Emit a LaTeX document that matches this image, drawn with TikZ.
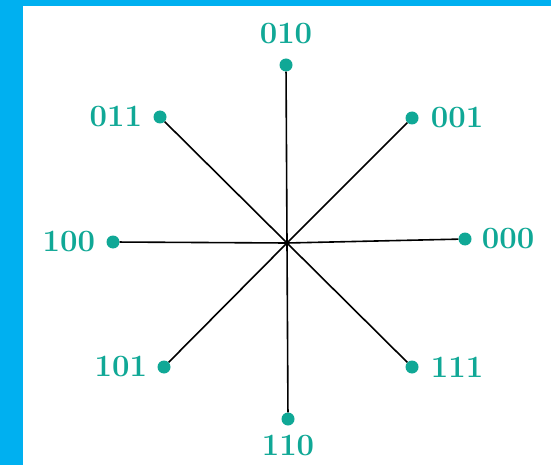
\documentclass[tikz,border=0pt]{standalone}
\usetikzlibrary{positioning}
\definecolor{frameblue}{RGB}{0,176,240}
\definecolor{codeteal}{RGB}{16,168,150}
\begin{document}
\begin{tikzpicture}[x=1pt, y=-1pt,
	vertex/.style={circle, fill=codeteal, inner sep=0pt, minimum size=13pt},
	code/.style={text=codeteal, inner sep=0pt, font=\fontsize{31}{31}\selectfont\bfseries}]
	% frame
	\fill[frameblue] (0,0) rectangle (551,465);
	\fill[white] (22.5,6.3) rectangle (551,465);
	\useasboundingbox (0,0) rectangle (551,465);
	\coordinate (o) at (287,243);
	% the eight points
	\node[vertex] (v010) at (286,65) {};
	\node[vertex] (v001) at (412,118) {};
	\node[vertex] (v000) at (465,239) {};
	\node[vertex] (v111) at (412,367) {};
	\node[vertex] (v110) at (288,419) {};
	\node[vertex] (v101) at (164,367) {};
	\node[vertex] (v100) at (113,242) {};
	\node[vertex] (v011) at (160,117) {};
	\foreach \v in {010,001,000,111,110,101,100,011}
		\draw[line width=1.6pt] (o) -- (v\v);
	% labels
	\node[code, above=14pt of v010] (l010) {010};
	\node[code, right=12pt of v001] (l001) {001};
	\node[code, right=10pt of v000] (l000) {000};
	\node[code, right=12pt of v111] (l111) {111};
	\node[code, below=9pt of v110] (l110) {110};
	\node[code, left=10pt of v101] (l101) {101};
	\node[code, left=11pt of v100] (l100) {100};
	\node[code, left=11pt of v011] (l011) {011};
\end{tikzpicture}
\end{document}
